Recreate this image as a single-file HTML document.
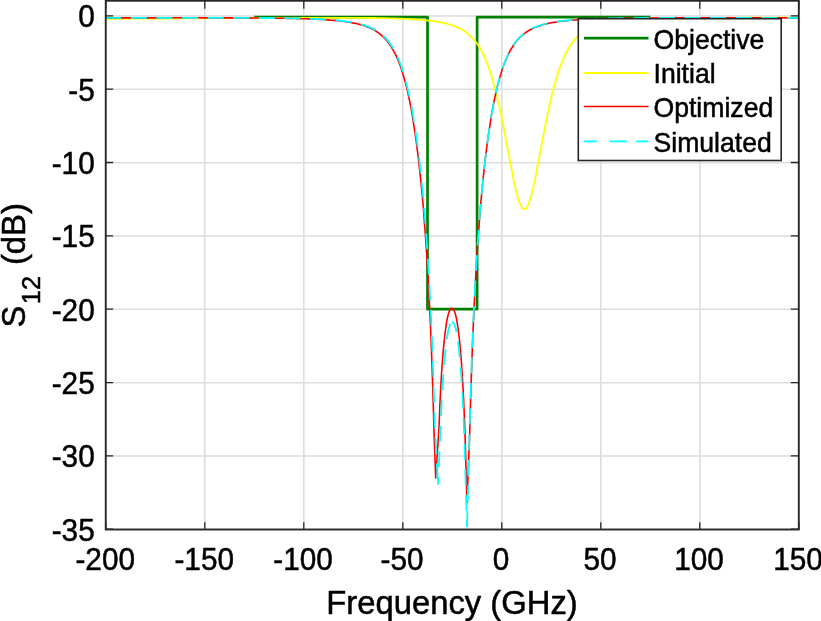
<!DOCTYPE html>
<html lang="en"><head><meta charset="utf-8"><title>S12 vs Frequency</title>
<style>html,body{margin:0;padding:0;background:#fff}body{width:821px;height:621px;overflow:hidden}svg{display:block}text{font-family:"Liberation Sans",Arial,Helvetica,sans-serif;fill:#000;stroke:#000;stroke-width:0.5px}.tk{font-size:30px}.lb{font-size:32.8px}.lg{font-size:26.6px}</style></head><body>
<svg width="821" height="621" viewBox="0 0 821 621">
<rect width="821" height="621" fill="#fff"/>
<path d="M204.8 0.75 V529.5 M303.8 0.75 V529.5 M402.8 0.75 V529.5 M501.8 0.75 V529.5 M600.8 0.75 V529.5 M699.8 0.75 V529.5 M105.75 16.0 H798.8 M105.75 89.3 H798.8 M105.75 162.7 H798.8 M105.75 236.0 H798.8 M105.75 309.3 H798.8 M105.75 382.7 H798.8 M105.75 456.0 H798.8" stroke="#dddddd" stroke-width="1.6" fill="none"/>
<clipPath id="c"><rect x="105.75" y="0.75" width="693.8499999999999" height="528.75"/></clipPath>
<g clip-path="url(#c)" fill="none" stroke-linejoin="round">
<path d="M254.2 17.2 L427.5 17.2 L427.5 309.2 L477.1 309.2 L477.1 17.2 L650.2 17.2" stroke="#008000" stroke-width="2.7"/>
<path d="M105.3 18.9 L107.5 18.9 L109.7 18.9 L111.8 18.8 L114.0 18.8 L116.2 18.8 L118.4 18.8 L120.6 18.8 L122.7 18.8 L124.9 18.8 L127.1 18.7 L129.3 18.7 L131.5 18.7 L133.6 18.7 L135.8 18.7 L138.0 18.7 L140.2 18.7 L142.4 18.6 L144.5 18.6 L146.7 18.6 L148.9 18.6 L151.1 18.6 L153.3 18.6 L155.5 18.6 L157.6 18.6 L159.8 18.5 L162.0 18.5 L164.2 18.5 L166.4 18.5 L168.5 18.5 L170.7 18.5 L172.9 18.5 L175.1 18.4 L177.3 18.4 L179.4 18.4 L181.6 18.4 L183.8 18.4 L186.0 18.4 L188.2 18.4 L190.3 18.4 L192.5 18.3 L194.7 18.3 L196.9 18.3 L199.1 18.3 L201.2 18.3 L203.4 18.3 L205.6 18.3 L207.8 18.3 L210.0 18.2 L212.1 18.2 L214.3 18.2 L216.5 18.2 L218.7 18.2 L220.9 18.2 L223.0 18.2 L225.2 18.2 L227.4 18.2 L229.6 18.1 L231.8 18.1 L233.9 18.1 L236.1 18.1 L238.3 18.1 L240.5 18.1 L242.7 18.1 L244.9 18.1 L247.0 18.1 L249.2 18.0 L251.4 18.0 L253.6 18.0 L255.8 18.0 L257.9 18.0 L260.1 18.0 L262.3 18.0 L264.5 18.0 L266.7 18.0 L268.8 18.0 L271.0 17.9 L273.2 17.9 L275.4 17.9 L277.6 17.9 L279.7 17.9 L281.9 17.9 L284.1 17.9 L286.3 17.9 L288.5 17.9 L290.6 17.9 L292.8 17.9 L295.0 17.9 L297.2 17.8 L299.4 17.8 L301.5 17.8 L303.7 17.8 L305.9 17.8 L308.1 17.8 L310.3 17.8 L312.4 17.8 L314.6 17.8 L316.8 17.8 L319.0 17.8 L321.2 17.8 L323.3 17.8 L325.5 17.8 L327.7 17.8 L329.9 17.8 L332.1 17.8 L334.3 17.8 L336.4 17.8 L338.6 17.8 L340.8 17.8 L343.0 17.8 L345.2 17.8 L347.3 17.8 L349.5 17.8 L351.7 17.8 L353.9 17.8 L356.1 17.9 L358.2 17.9 L360.4 17.9 L362.6 17.9 L364.8 17.9 L367.0 17.9 L369.1 18.0 L371.3 18.0 L373.5 18.0 L375.7 18.0 L377.9 18.1 L380.0 18.1 L382.2 18.1 L384.4 18.2 L386.6 18.2 L388.8 18.3 L390.9 18.4 L393.1 18.4 L395.3 18.5 L397.5 18.6 L399.7 18.7 L401.8 18.7 L404.0 18.8 L406.2 18.9 L408.4 19.0 L410.6 19.2 L412.7 19.3 L414.9 19.4 L417.1 19.6 L419.3 19.7 L421.5 19.9 L423.7 20.1 L425.8 20.3 L428.0 20.5 L430.2 20.8 L432.4 21.0 L434.6 21.3 L436.7 21.7 L438.9 22.0 L441.1 22.4 L443.3 22.9 L445.5 23.4 L447.6 23.9 L449.6 24.5 L451.4 25.0 L453.0 25.5 L454.4 26.1 L455.8 26.6 L457.0 27.1 L458.1 27.6 L459.3 28.2 L460.3 28.7 L461.3 29.3 L462.3 29.8 L463.3 30.4 L464.1 30.9 L464.9 31.5 L465.7 32.0 L466.5 32.6 L467.3 33.2 L468.1 33.8 L468.6 34.3 L469.2 34.9 L469.8 35.4 L470.4 36.0 L471.0 36.5 L471.6 37.1 L472.2 37.8 L472.8 38.4 L473.4 39.1 L474.0 39.8 L474.6 40.5 L475.2 41.2 L475.6 41.7 L476.0 42.2 L476.4 42.8 L476.8 43.3 L477.2 43.9 L477.6 44.5 L478.0 45.1 L478.4 45.7 L478.8 46.3 L479.2 46.9 L479.6 47.6 L479.9 48.2 L480.3 48.9 L480.7 49.6 L481.1 50.3 L481.5 51.0 L481.9 51.8 L482.3 52.6 L482.7 53.3 L483.1 54.1 L483.5 55.0 L483.9 55.8 L484.3 56.7 L484.7 57.5 L485.1 58.4 L485.5 59.4 L485.9 60.3 L486.3 61.3 L486.7 62.2 L487.1 63.2 L487.3 63.8 L487.5 64.3 L487.7 64.8 L487.9 65.3 L488.1 65.9 L488.3 66.4 L488.5 66.9 L488.7 67.5 L488.9 68.1 L489.1 68.6 L489.3 69.2 L489.5 69.8 L489.7 70.3 L489.9 70.9 L490.1 71.5 L490.3 72.1 L490.5 72.7 L490.7 73.3 L490.9 74.0 L491.0 74.6 L491.2 75.2 L491.4 75.8 L491.6 76.5 L491.8 77.1 L492.0 77.8 L492.2 78.4 L492.4 79.1 L492.6 79.8 L492.8 80.5 L493.0 81.2 L493.2 81.9 L493.4 82.6 L493.6 83.3 L493.8 84.0 L494.0 84.7 L494.2 85.4 L494.4 86.2 L494.6 86.9 L494.8 87.6 L495.0 88.4 L495.2 89.2 L495.4 89.9 L495.6 90.7 L495.8 91.5 L496.0 92.3 L496.2 93.1 L496.4 93.9 L496.6 94.7 L496.8 95.5 L497.0 96.3 L497.2 97.1 L497.4 97.9 L497.6 98.8 L497.8 99.6 L498.0 100.5 L498.2 101.3 L498.4 102.2 L498.6 103.1 L498.8 103.9 L499.0 104.8 L499.2 105.7 L499.4 106.6 L499.6 107.5 L499.8 108.4 L500.0 109.3 L500.2 110.2 L500.4 111.2 L500.6 112.1 L500.8 113.0 L501.0 114.0 L501.2 114.9 L501.4 115.9 L501.6 116.8 L501.8 117.8 L502.0 118.8 L502.1 119.7 L502.3 120.7 L502.5 121.7 L502.7 122.7 L502.9 123.7 L503.1 124.7 L503.3 125.7 L503.5 126.7 L503.7 127.7 L503.9 128.7 L504.1 129.7 L504.3 130.7 L504.5 131.8 L504.7 132.8 L504.9 133.8 L505.1 134.9 L505.3 135.9 L505.5 136.9 L505.7 138.0 L505.9 139.0 L506.1 140.1 L506.3 141.1 L506.5 142.2 L506.7 143.2 L506.9 144.3 L507.1 145.4 L507.3 146.4 L507.5 147.5 L507.7 148.6 L507.9 149.6 L508.1 150.7 L508.3 151.7 L508.5 152.8 L508.7 153.9 L508.9 154.9 L509.1 156.0 L509.3 157.1 L509.5 158.1 L509.7 159.2 L509.9 160.2 L510.1 161.3 L510.3 162.3 L510.5 163.4 L510.7 164.4 L510.9 165.5 L511.1 166.5 L511.3 167.5 L511.5 168.6 L511.7 169.6 L511.9 170.6 L512.1 171.6 L512.3 172.6 L512.5 173.6 L512.7 174.6 L512.9 175.6 L513.1 176.6 L513.2 177.6 L513.4 178.6 L513.6 179.5 L513.8 180.5 L514.0 181.4 L514.2 182.4 L514.4 183.3 L514.6 184.2 L514.8 185.1 L515.0 186.0 L515.2 186.9 L515.4 187.7 L515.6 188.6 L515.8 189.5 L516.0 190.3 L516.2 191.1 L516.4 191.9 L516.6 192.7 L516.8 193.5 L517.0 194.3 L517.2 195.0 L517.4 195.7 L517.6 196.5 L517.8 197.2 L518.0 197.8 L518.2 198.5 L518.4 199.2 L518.6 199.8 L518.8 200.4 L519.0 201.0 L519.2 201.6 L519.4 202.2 L519.6 202.7 L519.8 203.2 L520.0 203.7 L520.4 204.7 L520.8 205.5 L521.2 206.3 L521.6 207.0 L522.0 207.6 L522.4 208.1 L523.0 208.7 L524.0 209.2 L525.7 208.6 L526.3 208.0 L526.7 207.4 L527.1 206.8 L527.5 206.1 L527.9 205.3 L528.3 204.4 L528.7 203.5 L528.9 203.0 L529.1 202.4 L529.3 201.9 L529.5 201.3 L529.7 200.7 L529.9 200.1 L530.1 199.5 L530.3 198.8 L530.5 198.2 L530.7 197.5 L530.9 196.8 L531.1 196.1 L531.3 195.4 L531.5 194.6 L531.7 193.9 L531.9 193.1 L532.1 192.3 L532.3 191.5 L532.5 190.7 L532.7 189.9 L532.9 189.0 L533.1 188.2 L533.3 187.3 L533.5 186.4 L533.7 185.6 L533.9 184.7 L534.1 183.7 L534.3 182.8 L534.5 181.9 L534.7 181.0 L534.9 180.0 L535.1 179.1 L535.3 178.1 L535.5 177.1 L535.6 176.1 L535.8 175.1 L536.0 174.2 L536.2 173.1 L536.4 172.1 L536.6 171.1 L536.8 170.1 L537.0 169.1 L537.2 168.1 L537.4 167.0 L537.6 166.0 L537.8 165.0 L538.0 163.9 L538.2 162.9 L538.4 161.8 L538.6 160.8 L538.8 159.7 L539.0 158.6 L539.2 157.6 L539.4 156.5 L539.6 155.5 L539.8 154.4 L540.0 153.3 L540.2 152.3 L540.4 151.2 L540.6 150.2 L540.8 149.1 L541.0 148.0 L541.2 147.0 L541.4 145.9 L541.6 144.8 L541.8 143.8 L542.0 142.7 L542.2 141.7 L542.4 140.6 L542.6 139.6 L542.8 138.5 L543.0 137.5 L543.2 136.4 L543.4 135.4 L543.6 134.4 L543.8 133.3 L544.0 132.3 L544.2 131.3 L544.4 130.2 L544.6 129.2 L544.8 128.2 L545.0 127.2 L545.2 126.2 L545.4 125.2 L545.6 124.2 L545.8 123.2 L546.0 122.2 L546.2 121.2 L546.4 120.2 L546.6 119.3 L546.7 118.3 L546.9 117.3 L547.1 116.4 L547.3 115.4 L547.5 114.5 L547.7 113.5 L547.9 112.6 L548.1 111.6 L548.3 110.7 L548.5 109.8 L548.7 108.9 L548.9 108.0 L549.1 107.1 L549.3 106.2 L549.5 105.3 L549.7 104.4 L549.9 103.5 L550.1 102.6 L550.3 101.8 L550.5 100.9 L550.7 100.1 L550.9 99.2 L551.1 98.4 L551.3 97.5 L551.5 96.7 L551.7 95.9 L551.9 95.1 L552.1 94.3 L552.3 93.5 L552.5 92.7 L552.7 91.9 L552.9 91.1 L553.1 90.3 L553.3 89.5 L553.5 88.8 L553.7 88.0 L553.9 87.3 L554.1 86.5 L554.3 85.8 L554.5 85.1 L554.7 84.3 L554.9 83.6 L555.1 82.9 L555.3 82.2 L555.5 81.5 L555.7 80.8 L555.9 80.1 L556.1 79.5 L556.3 78.8 L556.5 78.1 L556.7 77.5 L556.9 76.8 L557.1 76.2 L557.3 75.5 L557.5 74.9 L557.7 74.3 L557.9 73.6 L558.0 73.0 L558.2 72.4 L558.4 71.8 L558.6 71.2 L558.8 70.6 L559.0 70.1 L559.2 69.5 L559.4 68.9 L559.6 68.3 L559.8 67.8 L560.0 67.2 L560.2 66.7 L560.4 66.1 L560.6 65.6 L560.8 65.1 L561.0 64.5 L561.2 64.0 L561.4 63.5 L561.6 63.0 L561.8 62.5 L562.2 61.5 L562.6 60.5 L563.0 59.6 L563.4 58.7 L563.8 57.8 L564.2 56.9 L564.6 56.0 L565.0 55.2 L565.4 54.3 L565.8 53.5 L566.2 52.8 L566.6 52.0 L567.0 51.2 L567.4 50.5 L567.8 49.8 L568.2 49.1 L568.6 48.4 L569.0 47.7 L569.3 47.1 L569.7 46.4 L570.1 45.8 L570.5 45.2 L570.9 44.6 L571.3 44.0 L571.7 43.5 L572.1 42.9 L572.5 42.4 L572.9 41.9 L573.3 41.3 L573.7 40.8 L574.3 40.1 L574.9 39.4 L575.5 38.7 L576.1 38.1 L576.7 37.4 L577.3 36.8 L577.9 36.2 L578.5 35.7 L579.1 35.1 L579.7 34.6 L580.3 34.1 L581.0 33.4 L581.8 32.8 L582.6 32.2 L583.4 31.7 L584.2 31.1 L585.0 30.6 L586.0 30.0 L587.0 29.5 L588.0 28.9 L589.0 28.4 L590.2 27.8 L591.4 27.3 L592.5 26.8 L593.9 26.2 L595.3 25.7 L596.9 25.2 L598.7 24.7 L600.7 24.1 L602.8 23.6 L605.0 23.1 L607.2 22.6 L609.4 22.2 L611.6 21.9 L613.8 21.6 L615.9 21.3 L618.1 21.0 L620.3 20.8 L622.5 20.6 L624.7 20.4 L626.8 20.2 L629.0 20.0 L631.2 19.9 L633.4 19.7 L635.6 19.6 L637.7 19.5 L639.9 19.4 L642.1 19.3 L644.3 19.2 L646.5 19.1 L648.6 19.0 L650.8 19.0 L653.0 18.9 L655.2 18.8 L657.4 18.8 L659.5 18.7 L661.7 18.7 L663.9 18.6 L666.1 18.6 L668.3 18.5 L670.4 18.5 L672.6 18.4 L674.8 18.4 L677.0 18.4 L679.2 18.3 L681.3 18.3 L683.5 18.2 L685.7 18.2 L687.9 18.2 L690.1 18.2 L692.2 18.1 L694.4 18.1 L696.6 18.1 L698.8 18.1 L701.0 18.0 L703.2 18.0 L705.3 18.0 L707.5 18.0 L709.7 18.0 L711.9 17.9 L714.1 17.9 L716.2 17.9 L718.4 17.9 L720.6 17.9 L722.8 17.9 L725.0 17.8 L727.1 17.8 L729.3 17.8 L731.5 17.8 L733.7 17.8 L735.9 17.8 L738.0 17.8 L740.2 17.8 L742.4 17.7 L744.6 17.7 L746.8 17.7 L748.9 17.7 L751.1 17.7 L753.3 17.7 L755.5 17.7 L757.7 17.7 L759.8 17.7 L762.0 17.7 L764.2 17.7 L766.4 17.7 L768.6 17.6 L770.7 17.6 L772.9 17.6 L775.1 17.6 L777.3 17.6 L779.5 17.6 L781.6 17.6 L783.8 17.6 L786.0 17.6 L788.2 17.6 L790.4 17.6 L792.6 17.6 L794.7 17.6 L796.9 17.6 L799.1 17.6" stroke="#ffff00" stroke-width="1.8"/>
<path d="M105.3 17.9 L107.5 17.9 L109.7 17.9 L111.8 17.9 L114.0 17.9 L116.2 17.9 L118.4 17.9 L120.6 17.9 L122.7 17.9 L124.9 17.9 L127.1 17.9 L129.3 17.9 L131.5 17.9 L133.6 17.9 L135.8 17.9 L138.0 17.9 L140.2 17.9 L142.4 17.9 L144.5 17.9 L146.7 17.9 L148.9 17.9 L151.1 17.9 L153.3 17.9 L155.5 17.9 L157.6 17.9 L159.8 17.9 L162.0 17.8 L164.2 17.8 L166.4 17.8 L168.5 17.8 L170.7 17.8 L172.9 17.8 L175.1 17.8 L177.3 17.8 L179.4 17.8 L181.6 17.8 L183.8 17.8 L186.0 17.8 L188.2 17.8 L190.3 17.8 L192.5 17.8 L194.7 17.8 L196.9 17.8 L199.1 17.8 L201.2 17.8 L203.4 17.9 L205.6 17.9 L207.8 17.9 L210.0 17.9 L212.1 17.9 L214.3 17.9 L216.5 17.9 L218.7 17.9 L220.9 17.9 L223.0 17.9 L225.2 17.9 L227.4 17.9 L229.6 17.9 L231.8 17.9 L233.9 17.9 L236.1 17.9 L238.3 17.9 L240.5 17.9 L242.7 18.0 L244.9 18.0 L247.0 18.0 L249.2 18.0 L251.4 18.0 L253.6 18.0 L255.8 18.0 L257.9 18.0 L260.1 18.1 L262.3 18.1 L264.5 18.1 L266.7 18.1 L268.8 18.1 L271.0 18.2 L273.2 18.2 L275.4 18.2 L277.6 18.2 L279.7 18.3 L281.9 18.3 L284.1 18.3 L286.3 18.4 L288.5 18.4 L290.6 18.4 L292.8 18.5 L295.0 18.5 L297.2 18.6 L299.4 18.6 L301.5 18.7 L303.7 18.8 L305.9 18.8 L308.1 18.9 L310.3 19.0 L312.4 19.1 L314.6 19.2 L316.8 19.3 L319.0 19.4 L321.2 19.5 L323.3 19.6 L325.5 19.7 L327.7 19.9 L329.9 20.1 L332.1 20.2 L334.3 20.4 L336.4 20.6 L338.6 20.8 L340.8 21.1 L343.0 21.3 L345.2 21.6 L347.3 21.9 L349.5 22.3 L351.7 22.7 L353.9 23.1 L356.1 23.5 L358.2 24.1 L360.2 24.6 L362.0 25.1 L363.8 25.6 L365.4 26.2 L366.8 26.7 L368.1 27.2 L369.3 27.7 L370.5 28.3 L371.7 28.8 L372.7 29.3 L373.7 29.9 L374.7 30.4 L375.7 31.0 L376.5 31.5 L377.3 32.1 L378.1 32.6 L378.9 33.2 L379.6 33.8 L380.4 34.4 L381.2 35.1 L381.8 35.6 L382.4 36.1 L383.0 36.7 L383.6 37.3 L384.2 37.9 L384.8 38.5 L385.4 39.1 L386.0 39.8 L386.6 40.5 L387.2 41.2 L387.8 41.9 L388.2 42.4 L388.6 43.0 L389.0 43.5 L389.4 44.0 L389.8 44.6 L390.2 45.2 L390.5 45.8 L390.9 46.4 L391.3 47.0 L391.7 47.6 L392.1 48.3 L392.5 48.9 L392.9 49.6 L393.3 50.3 L393.7 51.0 L394.1 51.8 L394.5 52.5 L394.9 53.3 L395.3 54.1 L395.7 54.9 L396.1 55.7 L396.5 56.6 L396.9 57.5 L397.3 58.4 L397.7 59.3 L398.1 60.2 L398.5 61.2 L398.9 62.2 L399.1 62.7 L399.3 63.2 L399.5 63.8 L399.7 64.3 L399.9 64.8 L400.1 65.4 L400.3 65.9 L400.5 66.5 L400.7 67.0 L400.9 67.6 L401.1 68.2 L401.3 68.7 L401.5 69.3 L401.6 69.9 L401.8 70.5 L402.0 71.1 L402.2 71.8 L402.4 72.4 L402.6 73.0 L402.8 73.7 L403.0 74.3 L403.2 75.0 L403.4 75.6 L403.6 76.3 L403.8 77.0 L404.0 77.7 L404.2 78.4 L404.4 79.1 L404.6 79.8 L404.8 80.5 L405.0 81.3 L405.2 82.0 L405.4 82.8 L405.6 83.5 L405.8 84.3 L406.0 85.1 L406.2 85.9 L406.4 86.7 L406.6 87.5 L406.8 88.3 L407.0 89.2 L407.2 90.0 L407.4 90.9 L407.6 91.7 L407.8 92.6 L408.0 93.5 L408.2 94.4 L408.4 95.3 L408.6 96.2 L408.8 97.1 L409.0 98.1 L409.2 99.0 L409.4 100.0 L409.6 101.0 L409.8 101.9 L410.0 102.9 L410.2 104.0 L410.4 105.0 L410.6 106.0 L410.8 107.1 L411.0 108.1 L411.2 109.2 L411.4 110.3 L411.6 111.4 L411.8 112.5 L412.0 113.6 L412.2 114.8 L412.4 115.9 L412.6 117.1 L412.7 118.3 L412.9 119.5 L413.1 120.7 L413.3 121.9 L413.5 123.1 L413.7 124.4 L413.9 125.7 L414.1 127.0 L414.3 128.3 L414.5 129.6 L414.7 130.9 L414.9 132.3 L415.1 133.6 L415.3 135.0 L415.5 136.4 L415.7 137.8 L415.9 139.3 L416.1 140.7 L416.3 142.2 L416.5 143.7 L416.7 145.2 L416.9 146.7 L417.1 148.3 L417.3 149.8 L417.5 151.4 L417.7 153.0 L417.9 154.6 L418.1 156.3 L418.3 157.9 L418.5 159.6 L418.7 161.3 L418.9 163.1 L419.1 164.8 L419.3 166.6 L419.5 168.4 L419.7 170.2 L419.9 172.0 L420.1 173.9 L420.3 175.8 L420.5 177.7 L420.7 179.6 L420.9 181.6 L421.1 183.6 L421.3 185.6 L421.5 187.7 L421.7 189.7 L421.9 191.9 L422.1 194.0 L422.3 196.1 L422.5 198.3 L422.7 200.6 L422.9 202.8 L423.1 205.1 L423.3 207.4 L423.5 209.8 L423.7 212.2 L423.8 214.6 L424.0 217.1 L424.2 219.6 L424.4 222.1 L424.6 224.7 L424.8 227.3 L425.0 230.0 L425.2 232.7 L425.4 235.4 L425.6 238.2 L425.8 241.1 L426.0 244.0 L426.2 246.9 L426.4 249.9 L426.6 253.0 L426.8 256.1 L427.0 259.2 L427.2 262.4 L427.4 265.7 L427.6 269.1 L427.8 272.5 L428.0 276.0 L428.2 279.5 L428.4 283.1 L428.6 286.8 L428.8 290.6 L429.0 294.5 L429.2 298.4 L429.4 302.4 L429.6 306.6 L429.8 310.8 L430.0 315.1 L430.2 319.6 L430.4 324.1 L430.6 328.8 L430.8 333.6 L431.0 338.5 L431.2 343.5 L431.4 348.7 L431.6 354.1 L431.8 359.6 L432.0 365.2 L432.2 371.0 L432.4 377.0 L432.6 383.2 L432.8 389.5 L433.0 396.0 L433.2 402.7 L433.4 409.6 L433.6 416.7 L433.8 423.9 L434.0 431.2 L435.7 478.0 L438.9 429.2 L439.1 423.9 L439.3 418.9 L439.5 414.0 L439.7 409.3 L439.9 404.8 L440.1 400.4 L440.3 396.2 L440.5 392.2 L440.7 388.4 L440.9 384.7 L441.1 381.1 L441.3 377.7 L441.5 374.4 L441.7 371.3 L441.9 368.3 L442.1 365.3 L442.3 362.5 L442.5 359.8 L442.7 357.3 L442.9 354.8 L443.1 352.4 L443.3 350.1 L443.5 347.9 L443.7 345.7 L443.9 343.7 L444.1 341.7 L444.3 339.8 L444.5 338.0 L444.7 336.2 L444.9 334.5 L445.1 332.9 L445.3 331.4 L445.5 329.9 L445.7 328.5 L445.9 327.1 L446.1 325.8 L446.2 324.5 L446.4 323.3 L446.6 322.2 L446.8 321.1 L447.0 320.0 L447.2 319.0 L447.4 318.1 L447.6 317.2 L447.8 316.3 L448.0 315.5 L448.2 314.7 L448.4 314.0 L448.6 313.4 L448.8 312.7 L449.0 312.1 L449.2 311.6 L449.4 311.1 L449.8 310.2 L450.2 309.5 L450.6 308.9 L451.2 308.3 L453.2 309.0 L453.6 309.6 L454.0 310.3 L454.4 311.2 L454.6 311.8 L454.8 312.3 L455.0 312.9 L455.2 313.6 L455.4 314.2 L455.6 315.0 L455.8 315.8 L456.0 316.6 L456.2 317.4 L456.4 318.4 L456.6 319.3 L456.8 320.3 L457.0 321.4 L457.2 322.5 L457.3 323.7 L457.5 324.9 L457.7 326.2 L457.9 327.5 L458.1 328.9 L458.3 330.3 L458.5 331.9 L458.7 333.4 L458.9 335.1 L459.1 336.8 L459.3 338.5 L459.5 340.4 L459.7 342.3 L459.9 344.3 L460.1 346.4 L460.3 348.5 L460.5 350.8 L460.7 353.1 L460.9 355.5 L461.1 358.1 L461.3 360.7 L461.5 363.4 L461.7 366.2 L461.9 369.2 L462.1 372.3 L462.3 375.5 L462.5 378.8 L462.7 382.2 L462.9 385.8 L463.1 389.6 L463.3 393.5 L463.5 397.5 L463.7 401.8 L463.9 406.2 L464.1 410.7 L464.3 415.5 L464.5 420.4 L464.7 425.6 L464.9 430.9 L465.1 436.3 L467.0 502.4 L469.6 436.3 L469.8 428.9 L470.0 421.6 L470.2 414.4 L470.4 407.4 L470.6 400.6 L470.8 394.0 L471.0 387.5 L471.2 381.2 L471.4 375.1 L471.6 369.2 L471.8 363.4 L472.0 357.8 L472.2 352.4 L472.4 347.1 L472.6 341.9 L472.8 336.9 L473.0 332.0 L473.2 327.3 L473.4 322.7 L473.6 318.2 L473.8 313.8 L474.0 309.5 L474.2 305.3 L474.4 301.2 L474.6 297.1 L474.8 293.2 L475.0 289.4 L475.2 285.6 L475.4 282.0 L475.6 278.4 L475.8 274.8 L476.0 271.4 L476.2 268.0 L476.4 264.7 L476.6 261.4 L476.8 258.2 L477.0 255.1 L477.2 252.0 L477.4 249.0 L477.6 246.0 L477.8 243.1 L478.0 240.2 L478.2 237.4 L478.4 234.6 L478.6 231.8 L478.8 229.1 L479.0 226.5 L479.2 223.9 L479.4 221.3 L479.6 218.8 L479.7 216.3 L479.9 213.8 L480.1 211.4 L480.3 209.0 L480.5 206.7 L480.7 204.4 L480.9 202.1 L481.1 199.9 L481.3 197.6 L481.5 195.5 L481.7 193.3 L481.9 191.2 L482.1 189.1 L482.3 187.0 L482.5 185.0 L482.7 183.0 L482.9 181.0 L483.1 179.0 L483.3 177.1 L483.5 175.2 L483.7 173.3 L483.9 171.4 L484.1 169.6 L484.3 167.8 L484.5 166.0 L484.7 164.2 L484.9 162.5 L485.1 160.8 L485.3 159.1 L485.5 157.4 L485.7 155.8 L485.9 154.1 L486.1 152.5 L486.3 150.9 L486.5 149.3 L486.7 147.8 L486.9 146.2 L487.1 144.7 L487.3 143.2 L487.5 141.7 L487.7 140.3 L487.9 138.8 L488.1 137.4 L488.3 136.0 L488.5 134.6 L488.7 133.2 L488.9 131.8 L489.1 130.5 L489.3 129.2 L489.5 127.8 L489.7 126.6 L489.9 125.3 L490.1 124.0 L490.3 122.8 L490.5 121.5 L490.7 120.3 L490.9 119.1 L491.0 117.9 L491.2 116.7 L491.4 115.6 L491.6 114.4 L491.8 113.3 L492.0 112.1 L492.2 111.0 L492.4 109.9 L492.6 108.9 L492.8 107.8 L493.0 106.7 L493.2 105.7 L493.4 104.7 L493.6 103.6 L493.8 102.6 L494.0 101.6 L494.2 100.6 L494.4 99.7 L494.6 98.7 L494.8 97.8 L495.0 96.8 L495.2 95.9 L495.4 95.0 L495.6 94.1 L495.8 93.2 L496.0 92.3 L496.2 91.4 L496.4 90.6 L496.6 89.7 L496.8 88.9 L497.0 88.1 L497.2 87.2 L497.4 86.4 L497.6 85.6 L497.8 84.8 L498.0 84.1 L498.2 83.3 L498.4 82.5 L498.6 81.8 L498.8 81.0 L499.0 80.3 L499.2 79.6 L499.4 78.9 L499.6 78.2 L499.8 77.5 L500.0 76.8 L500.2 76.1 L500.4 75.4 L500.6 74.8 L500.8 74.1 L501.0 73.5 L501.2 72.8 L501.4 72.2 L501.6 71.6 L501.8 70.9 L502.0 70.3 L502.1 69.7 L502.3 69.1 L502.5 68.6 L502.7 68.0 L502.9 67.4 L503.1 66.8 L503.3 66.3 L503.5 65.7 L503.7 65.2 L503.9 64.6 L504.1 64.1 L504.3 63.6 L504.5 63.1 L504.7 62.6 L504.9 62.1 L505.3 61.1 L505.7 60.1 L506.1 59.2 L506.5 58.2 L506.9 57.3 L507.3 56.5 L507.7 55.6 L508.1 54.8 L508.5 54.0 L508.9 53.2 L509.3 52.4 L509.7 51.7 L510.1 50.9 L510.5 50.2 L510.9 49.5 L511.3 48.8 L511.7 48.2 L512.1 47.5 L512.5 46.9 L512.9 46.3 L513.2 45.7 L513.6 45.1 L514.0 44.5 L514.4 43.9 L514.8 43.4 L515.2 42.9 L515.6 42.3 L516.0 41.8 L516.6 41.1 L517.2 40.4 L517.8 39.7 L518.4 39.0 L519.0 38.4 L519.6 37.8 L520.2 37.2 L520.8 36.6 L521.4 36.1 L522.0 35.5 L522.6 35.0 L523.4 34.4 L524.2 33.7 L524.9 33.1 L525.7 32.6 L526.5 32.0 L527.3 31.5 L528.3 30.9 L529.3 30.3 L530.3 29.7 L531.3 29.2 L532.5 28.6 L533.7 28.1 L534.9 27.5 L536.2 27.0 L537.6 26.4 L539.2 25.9 L540.8 25.4 L542.6 24.8 L544.6 24.3 L546.7 23.8 L548.9 23.3 L551.1 22.8 L553.3 22.4 L555.5 22.1 L557.7 21.7 L559.8 21.4 L562.0 21.2 L564.2 20.9 L566.4 20.7 L568.6 20.5 L570.7 20.3 L572.9 20.1 L575.1 20.0 L577.3 19.8 L579.5 19.7 L581.6 19.5 L583.8 19.4 L586.0 19.3 L588.2 19.2 L590.4 19.1 L592.5 19.0 L594.7 18.9 L596.9 18.9 L599.1 18.8 L601.3 18.7 L603.4 18.7 L605.6 18.6 L607.8 18.6 L610.0 18.5 L612.2 18.5 L614.3 18.4 L616.5 18.4 L618.7 18.3 L620.9 18.3 L623.1 18.3 L625.2 18.2 L627.4 18.2 L629.6 18.2 L631.8 18.2 L634.0 18.1 L636.1 18.1 L638.3 18.1 L640.5 18.1 L642.7 18.1 L644.9 18.0 L647.1 18.0 L649.2 18.0 L651.4 18.0 L653.6 18.0 L655.8 18.0 L658.0 18.0 L660.1 18.0 L662.3 17.9 L664.5 17.9 L666.7 17.9 L668.9 17.9 L671.0 17.9 L673.2 17.9 L675.4 17.9 L677.6 17.9 L679.8 17.9 L681.9 17.9 L684.1 17.9 L686.3 17.9 L688.5 17.9 L690.7 17.9 L692.8 17.9 L695.0 17.9 L697.2 17.9 L699.4 17.9 L701.6 17.9 L703.7 17.8 L705.9 17.8 L708.1 17.8 L710.3 17.8 L712.5 17.8 L714.6 17.8 L716.8 17.8 L719.0 17.8 L721.2 17.8 L723.4 17.8 L725.6 17.8 L727.7 17.8 L729.9 17.8 L732.1 17.8 L734.3 17.8 L736.5 17.8 L738.6 17.8 L740.8 17.8 L743.0 17.9 L745.2 17.9 L747.4 17.9 L749.5 17.9 L751.7 17.9 L753.9 17.9 L756.1 17.9 L758.3 17.9 L760.4 17.9 L762.6 17.9 L764.8 17.9 L767.0 17.9 L769.2 17.9 L771.3 17.9 L773.5 17.9 L775.7 17.9 L777.9 17.9 L780.1 17.9 L782.2 17.9 L784.4 17.9 L786.6 17.9 L788.8 17.9 L791.0 17.9 L793.1 17.9 L795.3 17.9 L797.5 17.9 L799.1 17.9" stroke="#ff0000" stroke-width="1.6"/>
<path d="M105.3 17.9 L107.5 17.9 L109.7 17.9 L111.8 17.9 L114.0 17.9 L116.2 17.9 L118.4 17.9 L120.6 17.9 L122.7 17.9 L124.9 17.9 L127.1 17.9 L129.3 17.9 L131.5 17.8 L133.6 17.8 L135.8 17.8 L138.0 17.8 L140.2 17.8 L142.4 17.8 L144.5 17.8 L146.7 17.8 L148.9 17.8 L151.1 17.8 L153.3 17.8 L155.5 17.8 L157.6 17.8 L159.8 17.8 L162.0 17.8 L164.2 17.8 L166.4 17.8 L168.5 17.8 L170.7 17.8 L172.9 17.8 L175.1 17.8 L177.3 17.8 L179.4 17.8 L181.6 17.8 L183.8 17.8 L186.0 17.8 L188.2 17.8 L190.3 17.8 L192.5 17.8 L194.7 17.8 L196.9 17.8 L199.1 17.8 L201.2 17.8 L203.4 17.8 L205.6 17.8 L207.8 17.8 L210.0 17.8 L212.1 17.8 L214.3 17.8 L216.5 17.8 L218.7 17.8 L220.9 17.8 L223.0 17.8 L225.2 17.8 L227.4 17.8 L229.6 17.8 L231.8 17.8 L233.9 17.8 L236.1 17.9 L238.3 17.9 L240.5 17.9 L242.7 17.9 L244.9 17.9 L247.0 17.9 L249.2 17.9 L251.4 17.9 L253.6 17.9 L255.8 17.9 L257.9 18.0 L260.1 18.0 L262.3 18.0 L264.5 18.0 L266.7 18.0 L268.8 18.0 L271.0 18.1 L273.2 18.1 L275.4 18.1 L277.6 18.1 L279.7 18.2 L281.9 18.2 L284.1 18.2 L286.3 18.2 L288.5 18.3 L290.6 18.3 L292.8 18.4 L295.0 18.4 L297.2 18.4 L299.4 18.5 L301.5 18.5 L303.7 18.6 L305.9 18.7 L308.1 18.7 L310.3 18.8 L312.4 18.9 L314.6 19.0 L316.8 19.1 L319.0 19.2 L321.2 19.3 L323.3 19.4 L325.5 19.5 L327.7 19.7 L329.9 19.8 L332.1 20.0 L334.3 20.1 L336.4 20.3 L338.6 20.5 L340.8 20.8 L343.0 21.0 L345.2 21.3 L347.3 21.6 L349.5 21.9 L351.7 22.3 L353.9 22.7 L356.1 23.1 L358.2 23.6 L360.4 24.1 L362.4 24.7 L364.2 25.2 L365.8 25.8 L367.4 26.3 L368.7 26.9 L370.1 27.4 L371.3 28.0 L372.5 28.5 L373.5 29.0 L374.5 29.6 L375.5 30.1 L376.5 30.7 L377.3 31.2 L378.1 31.8 L378.9 32.3 L379.6 32.9 L380.4 33.5 L381.2 34.1 L382.0 34.8 L382.6 35.3 L383.2 35.8 L383.8 36.4 L384.4 37.0 L385.0 37.6 L385.6 38.2 L386.2 38.8 L386.8 39.5 L387.4 40.2 L388.0 40.9 L388.6 41.6 L389.0 42.1 L389.4 42.7 L389.8 43.2 L390.2 43.7 L390.5 44.3 L390.9 44.9 L391.3 45.5 L391.7 46.1 L392.1 46.7 L392.5 47.3 L392.9 48.0 L393.3 48.7 L393.7 49.4 L394.1 50.1 L394.5 50.8 L394.9 51.5 L395.3 52.3 L395.7 53.1 L396.1 53.9 L396.5 54.7 L396.9 55.5 L397.3 56.4 L397.7 57.3 L398.1 58.2 L398.5 59.1 L398.9 60.1 L399.3 61.0 L399.7 62.0 L399.9 62.5 L400.1 63.1 L400.3 63.6 L400.5 64.1 L400.7 64.6 L400.9 65.2 L401.1 65.7 L401.3 66.3 L401.5 66.9 L401.6 67.4 L401.8 68.0 L402.0 68.6 L402.2 69.2 L402.4 69.8 L402.6 70.4 L402.8 71.0 L403.0 71.6 L403.2 72.3 L403.4 72.9 L403.6 73.5 L403.8 74.2 L404.0 74.9 L404.2 75.5 L404.4 76.2 L404.6 76.9 L404.8 77.6 L405.0 78.3 L405.2 79.0 L405.4 79.7 L405.6 80.5 L405.8 81.2 L406.0 82.0 L406.2 82.7 L406.4 83.5 L406.6 84.3 L406.8 85.0 L407.0 85.8 L407.2 86.6 L407.4 87.5 L407.6 88.3 L407.8 89.1 L408.0 90.0 L408.2 90.8 L408.4 91.7 L408.6 92.6 L408.8 93.5 L409.0 94.4 L409.2 95.3 L409.4 96.2 L409.6 97.1 L409.8 98.1 L410.0 99.0 L410.2 100.0 L410.4 101.0 L410.6 102.0 L410.8 103.0 L411.0 104.0 L411.2 105.0 L411.4 106.0 L411.6 107.1 L411.8 108.1 L412.0 109.2 L412.2 110.3 L412.4 111.4 L412.6 112.5 L412.7 113.7 L412.9 114.8 L413.1 116.0 L413.3 117.1 L413.5 118.3 L413.7 119.5 L413.9 120.7 L414.1 121.9 L414.3 123.2 L414.5 124.4 L414.7 125.7 L414.9 127.0 L415.1 128.3 L415.3 129.6 L415.5 130.9 L415.7 132.3 L415.9 133.7 L416.1 135.0 L416.3 136.4 L416.5 137.9 L416.7 139.3 L416.9 140.7 L417.1 142.2 L417.3 143.7 L417.5 145.2 L417.7 146.7 L417.9 148.3 L418.1 149.8 L418.3 151.4 L418.5 153.0 L418.7 154.6 L418.9 156.2 L419.1 157.9 L419.3 159.6 L419.5 161.3 L419.7 163.0 L419.9 164.7 L420.1 166.5 L420.3 168.3 L420.5 170.1 L420.7 171.9 L420.9 173.8 L421.1 175.6 L421.3 177.5 L421.5 179.5 L421.7 181.4 L421.9 183.4 L422.1 185.4 L422.3 187.4 L422.5 189.5 L422.7 191.6 L422.9 193.7 L423.1 195.8 L423.3 198.0 L423.5 200.2 L423.7 202.4 L423.8 204.7 L424.0 207.0 L424.2 209.3 L424.4 211.7 L424.6 214.1 L424.8 216.5 L425.0 219.0 L425.2 221.5 L425.4 224.0 L425.6 226.6 L425.8 229.2 L426.0 231.9 L426.2 234.6 L426.4 237.3 L426.6 240.1 L426.8 243.0 L427.0 245.9 L427.2 248.8 L427.4 251.8 L427.6 254.8 L427.8 257.9 L428.0 261.1 L428.2 264.3 L428.4 267.6 L428.6 270.9 L428.8 274.3 L429.0 277.8 L429.2 281.3 L429.4 284.9 L429.6 288.6 L429.8 292.4 L430.0 296.2 L430.2 300.1 L430.4 304.2 L430.6 308.3 L430.8 312.5 L431.0 316.8 L431.2 321.2 L431.4 325.7 L431.6 330.4 L431.8 335.2 L432.0 340.1 L432.2 345.1 L432.4 350.3 L432.6 355.6 L432.8 361.1 L433.0 366.8 L433.2 372.6 L433.4 378.6 L433.6 384.8 L433.8 391.2 L434.0 397.9 L434.2 404.7 L434.4 411.8 L434.6 419.0 L434.8 426.6 L438.0 484.8" stroke="#00ffff" stroke-width="1.8" stroke-dasharray="16 9.6"/>
<path d="M438.0 484.8 L440.5 430.1 L440.7 424.9 L440.9 420.0 L441.1 415.3 L441.3 410.8 L441.5 406.5 L441.7 402.4 L441.9 398.5 L442.1 394.7 L442.3 391.1 L442.5 387.6 L442.7 384.3 L442.9 381.1 L443.1 378.1 L443.3 375.2 L443.5 372.4 L443.7 369.7 L443.9 367.1 L444.1 364.6 L444.3 362.2 L444.5 359.9 L444.7 357.8 L444.9 355.7 L445.1 353.6 L445.3 351.7 L445.5 349.9 L445.7 348.1 L445.9 346.4 L446.1 344.8 L446.2 343.2 L446.4 341.7 L446.6 340.3 L446.8 338.9 L447.0 337.6 L447.2 336.4 L447.4 335.2 L447.6 334.1 L447.8 333.0 L448.0 332.0 L448.2 331.0 L448.4 330.1 L448.6 329.3 L448.8 328.5 L449.0 327.7 L449.2 327.0 L449.4 326.3 L449.6 325.7 L449.8 325.2 L450.0 324.7 L450.4 323.8 L450.8 323.0 L451.2 322.5 L452.0 321.9" stroke="#00ffff" stroke-width="1.8" stroke-dasharray="16 9.6" stroke-dashoffset="8"/>
<path d="M467.0 526.9 L464.5 443.2 L464.3 437.6 L464.1 432.1 L463.9 426.9 L463.7 421.9 L463.5 417.2 L463.3 412.6 L463.1 408.2 L462.9 404.0 L462.7 400.0 L462.5 396.2 L462.3 392.5 L462.1 389.0 L461.9 385.6 L461.7 382.4 L461.5 379.3 L461.3 376.3 L461.1 373.4 L460.9 370.7 L460.7 368.1 L460.5 365.6 L460.3 363.2 L460.1 360.8 L459.9 358.6 L459.7 356.5 L459.5 354.4 L459.3 352.5 L459.1 350.6 L458.9 348.8 L458.7 347.1 L458.5 345.4 L458.3 343.8 L458.1 342.3 L457.9 340.8 L457.7 339.5 L457.5 338.1 L457.3 336.9 L457.2 335.7 L457.0 334.5 L456.8 333.4 L456.6 332.4 L456.4 331.4 L456.2 330.5 L456.0 329.6 L455.8 328.8 L455.6 328.0 L455.4 327.3 L455.2 326.6 L455.0 326.0 L454.8 325.4 L454.6 324.9 L454.2 323.9 L453.8 323.2 L453.4 322.6 L452.0 321.9" stroke="#00ffff" stroke-width="1.8" stroke-dasharray="16 9.6" stroke-dashoffset="9.6"/>
<path d="M467.0 526.9 L469.2 447.0 L469.4 439.0 L469.6 431.2 L469.8 423.5 L470.0 416.1 L470.2 408.9 L470.4 402.0 L470.6 395.2 L470.8 388.7 L471.0 382.3 L471.2 376.2 L471.4 370.3 L471.6 364.5 L471.8 358.9 L472.0 353.5 L472.2 348.2 L472.4 343.1 L472.6 338.1 L472.8 333.3 L473.0 328.5 L473.2 323.9 L473.4 319.4 L473.6 315.1 L473.8 310.8 L474.0 306.6 L474.2 302.6 L474.4 298.6 L474.6 294.7 L474.8 290.9 L475.0 287.1 L475.2 283.5 L475.4 279.9 L475.6 276.4 L475.8 273.0 L476.0 269.6 L476.2 266.3 L476.4 263.0 L476.6 259.8 L476.8 256.7 L477.0 253.6 L477.2 250.6 L477.4 247.6 L477.6 244.7 L477.8 241.8 L478.0 239.0 L478.2 236.2 L478.4 233.5 L478.6 230.8 L478.8 228.2 L479.0 225.6 L479.2 223.0 L479.4 220.5 L479.6 218.0 L479.7 215.5 L479.9 213.1 L480.1 210.7 L480.3 208.4 L480.5 206.1 L480.7 203.8 L480.9 201.5 L481.1 199.3 L481.3 197.1 L481.5 195.0 L481.7 192.8 L481.9 190.7 L482.1 188.7 L482.3 186.6 L482.5 184.6 L482.7 182.6 L482.9 180.6 L483.1 178.7 L483.3 176.8 L483.5 174.9 L483.7 173.0 L483.9 171.2 L484.1 169.4 L484.3 167.6 L484.5 165.8 L484.7 164.0 L484.9 162.3 L485.1 160.6 L485.3 158.9 L485.5 157.2 L485.7 155.6 L485.9 154.0 L486.1 152.3 L486.3 150.8 L486.5 149.2 L486.7 147.6 L486.9 146.1 L487.1 144.6 L487.3 143.1 L487.5 141.6 L487.7 140.2 L487.9 138.7 L488.1 137.3 L488.3 135.9 L488.5 134.5 L488.7 133.1 L488.9 131.8 L489.1 130.4 L489.3 129.1 L489.5 127.8 L489.7 126.5 L489.9 125.2 L490.1 123.9 L490.3 122.7 L490.5 121.5 L490.7 120.2 L490.9 119.0 L491.0 117.8 L491.2 116.7 L491.4 115.5 L491.6 114.3 L491.8 113.2 L492.0 112.1 L492.2 111.0 L492.4 109.9 L492.6 108.8 L492.8 107.7 L493.0 106.7 L493.2 105.6 L493.4 104.6 L493.6 103.6 L493.8 102.6 L494.0 101.6 L494.2 100.6 L494.4 99.6 L494.6 98.6 L494.8 97.7 L495.0 96.7 L495.2 95.8 L495.4 94.9 L495.6 94.0 L495.8 93.1 L496.0 92.2 L496.2 91.3 L496.4 90.5 L496.6 89.6 L496.8 88.8 L497.0 88.0 L497.2 87.1 L497.4 86.3 L497.6 85.5 L497.8 84.7 L498.0 83.9 L498.2 83.2 L498.4 82.4 L498.6 81.7 L498.8 80.9 L499.0 80.2 L499.2 79.4 L499.4 78.7 L499.6 78.0 L499.8 77.3 L500.0 76.6 L500.2 75.9 L500.4 75.3 L500.6 74.6 L500.8 73.9 L501.0 73.3 L501.2 72.6 L501.4 72.0 L501.6 71.4 L501.8 70.8 L502.0 70.2 L502.1 69.5 L502.3 69.0 L502.5 68.4 L502.7 67.8 L502.9 67.2 L503.1 66.6 L503.3 66.1 L503.5 65.5 L503.7 65.0 L503.9 64.4 L504.1 63.9 L504.3 63.4 L504.5 62.9 L504.7 62.3 L504.9 61.8 L505.1 61.3 L505.5 60.3 L505.9 59.4 L506.3 58.5 L506.7 57.5 L507.1 56.7 L507.5 55.8 L507.9 54.9 L508.3 54.1 L508.7 53.3 L509.1 52.5 L509.5 51.8 L509.9 51.0 L510.3 50.3 L510.7 49.6 L511.1 48.9 L511.5 48.2 L511.9 47.5 L512.3 46.9 L512.7 46.3 L513.1 45.7 L513.4 45.1 L513.8 44.5 L514.2 43.9 L514.6 43.4 L515.0 42.8 L515.4 42.3 L515.8 41.8 L516.2 41.3 L516.8 40.5 L517.4 39.8 L518.0 39.2 L518.6 38.5 L519.2 37.9 L519.8 37.3 L520.4 36.7 L521.0 36.1 L521.6 35.6 L522.2 35.0 L522.8 34.5 L523.6 33.9 L524.4 33.3 L525.1 32.7 L525.9 32.1 L526.7 31.6 L527.5 31.1 L528.5 30.4 L529.5 29.9 L530.5 29.3 L531.5 28.8 L532.7 28.2 L533.9 27.7 L535.1 27.2 L536.4 26.6 L537.8 26.1 L539.4 25.5 L541.0 25.0 L542.8 24.5 L544.8 24.0 L546.9 23.4 L549.1 23.0 L551.3 22.5 L553.5 22.2 L555.7 21.8 L557.9 21.5 L560.0 21.2 L562.2 20.9 L564.4 20.7 L566.6 20.5 L568.8 20.3 L570.9 20.1 L573.1 19.9 L575.3 19.8 L577.5 19.6 L579.7 19.5 L581.8 19.4 L584.0 19.2 L586.2 19.1 L588.4 19.0 L590.6 19.0 L592.7 18.9 L594.9 18.8 L597.1 18.7 L599.3 18.6 L601.5 18.6 L603.6 18.5 L605.8 18.5 L608.0 18.4 L610.2 18.4 L612.4 18.3 L614.5 18.3 L616.7 18.3 L618.9 18.2 L621.1 18.2 L623.3 18.2 L625.4 18.1 L627.6 18.1 L629.8 18.1 L632.0 18.1 L634.2 18.1 L636.3 18.0 L638.5 18.0 L640.7 18.0 L642.9 18.0 L645.1 18.0 L647.3 18.0 L649.4 17.9 L651.6 17.9 L653.8 17.9 L656.0 17.9 L658.2 17.9 L660.3 17.9 L662.5 17.9 L664.7 17.9 L666.9 17.9 L669.1 17.9 L671.2 17.8 L673.4 17.8 L675.6 17.8 L677.8 17.8 L680.0 17.8 L682.1 17.8 L684.3 17.8 L686.5 17.8 L688.7 17.8 L690.9 17.8 L693.0 17.8 L695.2 17.8 L697.4 17.8 L699.6 17.8 L701.8 17.8 L703.9 17.8 L706.1 17.8 L708.3 17.8 L710.5 17.8 L712.7 17.8 L714.8 17.8 L717.0 17.8 L719.2 17.8 L721.4 17.8 L723.6 17.8 L725.7 17.8 L727.9 17.8 L730.1 17.8 L732.3 17.8 L734.5 17.8 L736.7 17.8 L738.8 17.8 L741.0 17.8 L743.2 17.8 L745.4 17.8 L747.6 17.8 L749.7 17.8 L751.9 17.8 L754.1 17.8 L756.3 17.8 L758.5 17.8 L760.6 17.8 L762.8 17.8 L765.0 17.8 L767.2 17.8 L769.4 17.8 L771.5 17.8 L773.7 17.9 L775.9 17.9 L778.1 17.9 L780.3 17.9 L782.4 17.9 L784.6 17.9 L786.8 17.9 L789.0 17.9 L791.2 17.9 L793.3 17.9 L795.5 17.9 L797.7 17.9 L799.1 17.9" stroke="#00ffff" stroke-width="1.8" stroke-dasharray="16 9.6"/>
</g>
<path d="M105.8 529.5 v-7.2 M105.8 0.75 v8 M204.8 529.5 v-7.2 M204.8 0.75 v8 M303.8 529.5 v-7.2 M303.8 0.75 v8 M402.8 529.5 v-7.2 M402.8 0.75 v8 M501.8 529.5 v-7.2 M501.8 0.75 v8 M600.8 529.5 v-7.2 M600.8 0.75 v8 M699.8 529.5 v-7.2 M699.8 0.75 v8 M798.8 529.5 v-7.2 M798.8 0.75 v8 M105.75 15.85 h7.4 M798.8 15.85 h-8 M105.75 89.18 h7.4 M798.8 89.18 h-8 M105.75 162.52 h7.4 M798.8 162.52 h-8 M105.75 235.85 h7.4 M798.8 235.85 h-8 M105.75 309.19 h7.4 M798.8 309.19 h-8 M105.75 382.53 h7.4 M798.8 382.53 h-8 M105.75 455.86 h7.4 M798.8 455.86 h-8 M105.75 529.20 h7.4 M798.8 529.20 h-8" stroke="#262626" stroke-width="1.3" fill="none"/>
<rect x="105.75" y="0.75" width="693.05" height="528.75" fill="none" stroke="#262626" stroke-width="1.9"/>
<text class="tk" transform="translate(105.2 570.2) scale(0.992 1.033)" text-anchor="middle">-200</text>
<text class="tk" transform="translate(204.2 570.2) scale(0.992 1.033)" text-anchor="middle">-150</text>
<text class="tk" transform="translate(303.1 570.2) scale(0.992 1.033)" text-anchor="middle">-100</text>
<text class="tk" transform="translate(402.1 570.2) scale(0.992 1.033)" text-anchor="middle">-50</text>
<text class="tk" transform="translate(501.1 570.2) scale(0.992 1.033)" text-anchor="middle">0</text>
<text class="tk" transform="translate(600.1 570.2) scale(0.992 1.033)" text-anchor="middle">50</text>
<text class="tk" transform="translate(699.1 570.2) scale(0.992 1.033)" text-anchor="middle">100</text>
<text class="tk" transform="translate(798.1 570.2) scale(0.992 1.033)" text-anchor="middle">150</text>
<text class="tk" transform="translate(94.7 27.3) scale(0.992 1.033)" text-anchor="end">0</text>
<text class="tk" transform="translate(94.7 100.6) scale(0.992 1.033)" text-anchor="end">-5</text>
<text class="tk" transform="translate(94.7 174.0) scale(0.992 1.033)" text-anchor="end">-10</text>
<text class="tk" transform="translate(94.7 247.3) scale(0.992 1.033)" text-anchor="end">-15</text>
<text class="tk" transform="translate(94.7 320.6) scale(0.992 1.033)" text-anchor="end">-20</text>
<text class="tk" transform="translate(94.7 394.0) scale(0.992 1.033)" text-anchor="end">-25</text>
<text class="tk" transform="translate(94.7 467.3) scale(0.992 1.033)" text-anchor="end">-30</text>
<text class="tk" transform="translate(94.7 540.6) scale(0.992 1.033)" text-anchor="end">-35</text>
<text class="lb" transform="translate(452 613.9) scale(1 1.025)" text-anchor="middle">Frequency (GHz)</text>
<text class="lb" transform="translate(24.8 327.6) rotate(-90) scale(1 1.025)">S<tspan font-size="25.2" dx="1.6" dy="14.4">12</tspan><tspan dx="1.9" dy="-14.4"> (dB)</tspan></text>
<rect x="578.3" y="18.7" width="202.9" height="141.8" fill="#fff" stroke="#262626" stroke-width="1.6"/>
<path d="M584 38.2 H648.5" stroke="#008000" stroke-width="2.7" fill="none"/>
<text class="lg" transform="translate(653.5 48.5) scale(1 1.03)">Objective</text>
<path d="M584 73.0 H648.5" stroke="#ffff00" stroke-width="1.8" fill="none"/>
<text class="lg" transform="translate(653.5 83.3) scale(1 1.03)">Initial</text>
<path d="M584 106.5 H648.5" stroke="#ff0000" stroke-width="1.6" fill="none"/>
<text class="lg" transform="translate(653.5 116.8) scale(1 1.03)">Optimized</text>
<path d="M584 141.4 H648.5" stroke="#00ffff" stroke-width="1.8" stroke-dasharray="12.9 12.9 17.1 9.4 12.3" fill="none"/>
<text class="lg" transform="translate(653.5 151.7) scale(1 1.03)">Simulated</text>
</svg></body></html>
